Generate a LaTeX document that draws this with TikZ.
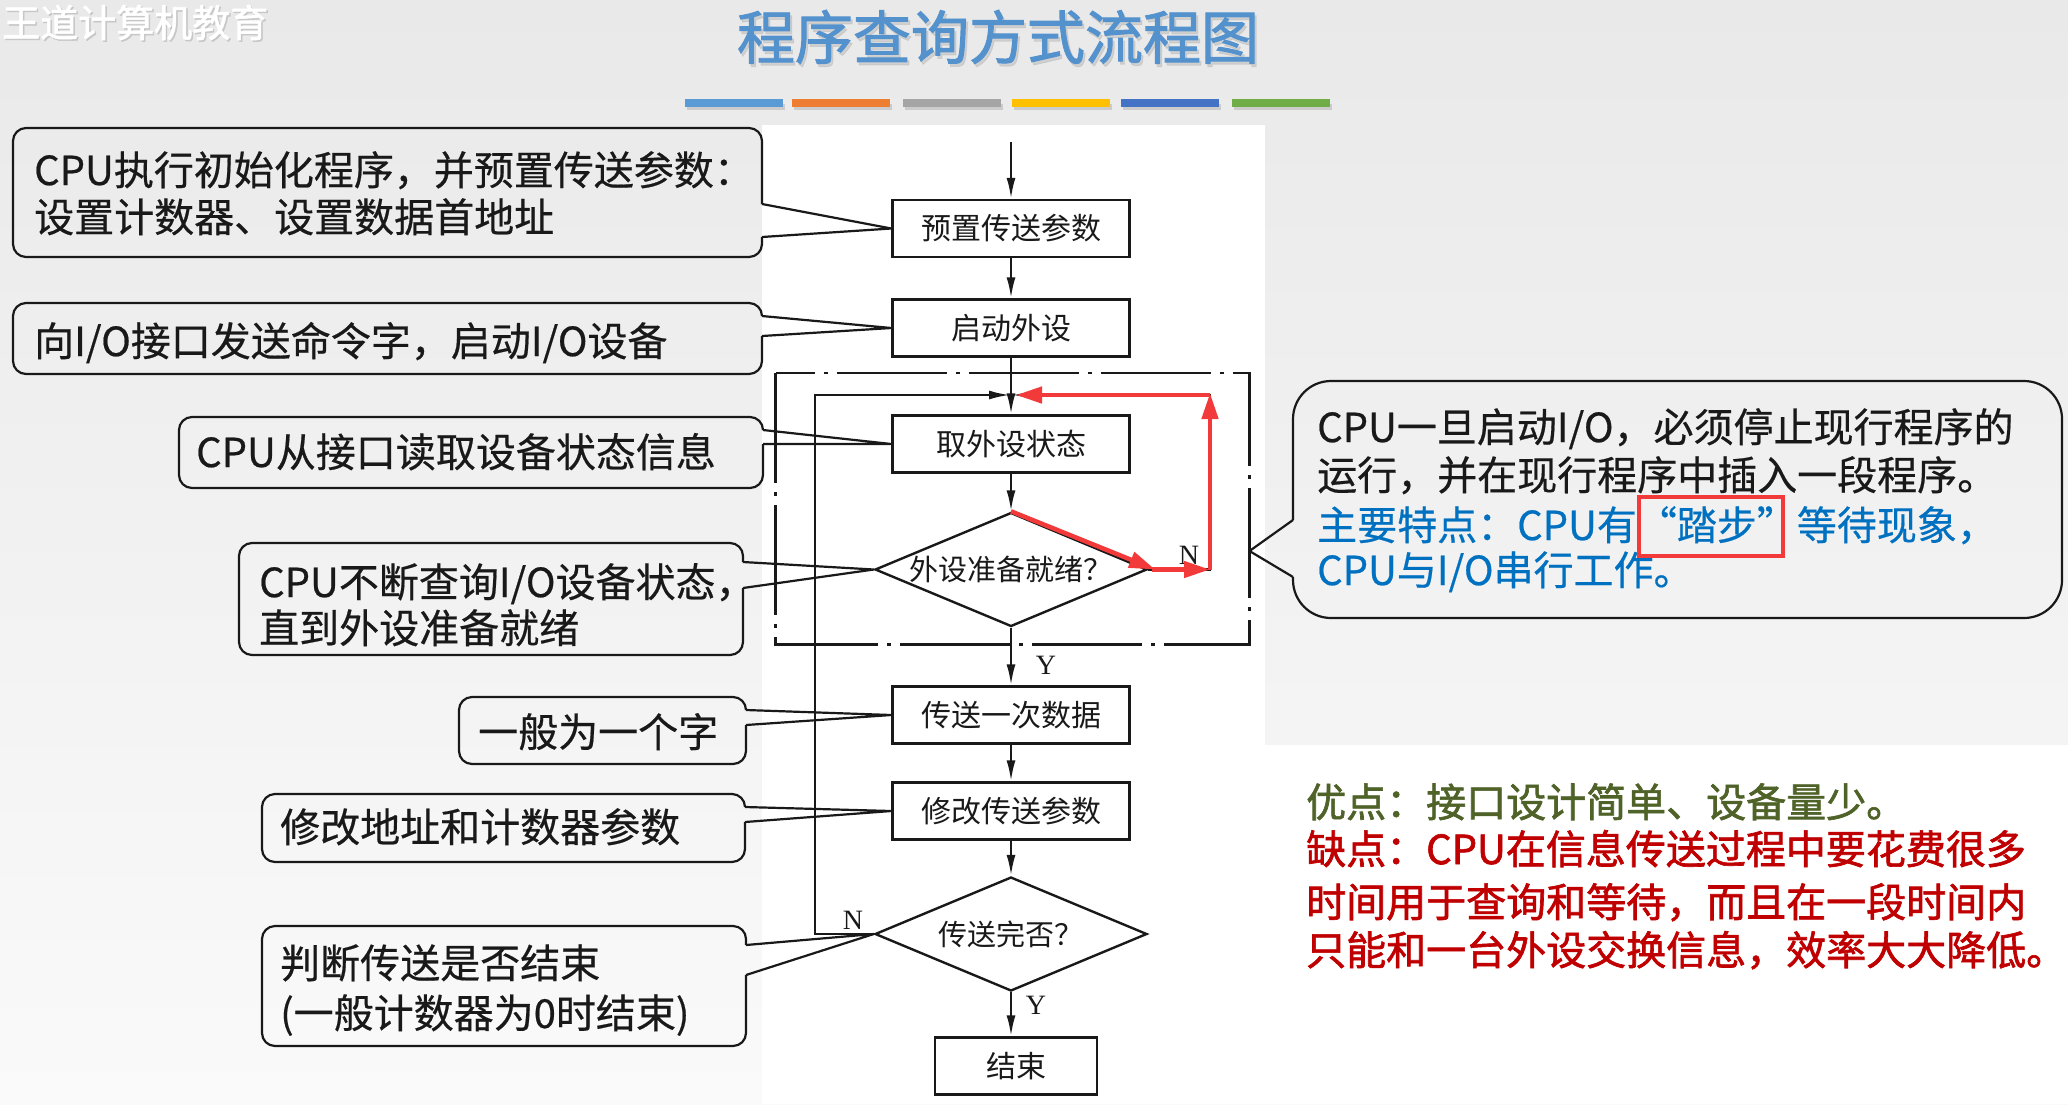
\documentclass[tikz,border=0pt]{standalone}
\usepackage{fontspec}
\usetikzlibrary{arrows.meta,shapes.geometric,calc}
\newfontfamily\cjk[FakeBold=0.5]{Noto Sans CJK SC}
\newfontfamily\cjkflow{Noto Sans CJK SC}
\newfontfamily\cjkbold[FakeBold=1.6]{Noto Sans CJK SC}
\newfontfamily\latinserif{Liberation Serif}

\definecolor{bgtop}{RGB}{233,233,233}
\definecolor{bgbot}{RGB}{250,250,250}
\definecolor{ink}{RGB}{25,25,25}
\definecolor{titleblue}{RGB}{84,146,206}
\definecolor{noteblue}{RGB}{0,112,192}
\definecolor{prosgreen}{RGB}{79,98,40}
\definecolor{consred}{RGB}{192,0,0}
\definecolor{markred}{RGB}{242,58,58}
\definecolor{barA}{RGB}{91,155,213}
\definecolor{barB}{RGB}{237,125,49}
\definecolor{barC}{RGB}{165,165,165}
\definecolor{barD}{RGB}{255,192,0}
\definecolor{barE}{RGB}{68,114,196}
\definecolor{barF}{RGB}{112,173,71}

% rounded note box with a wedge on its right side pointing at #7
% #1,#2 top-left  #3,#4 bottom-right  #5,#6 wedge base on the right edge
\newcommand{\calloutL}[7]{%
  \draw[callout,rounded corners=13pt] (#3,#6) -- (#3,#4) -- (#1,#4) -- (#1,#2) -- (#3,#2) -- (#3,#5);
  \draw[callout] (#3,#5) -- (#7) -- (#3,#6);}

\begin{document}
\begin{tikzpicture}[x=1pt,y=-1pt,
  stepbox/.style={draw=ink, line width=2.4pt, minimum width=237pt, minimum height=57pt,
    inner sep=0pt, font=\cjkflow\fontsize{30}{30}\selectfont, text=ink},
  decision/.style={diamond, draw=ink, line width=2.4pt, minimum width=272pt, minimum height=114pt,
    inner sep=0pt, font=\cjkflow\fontsize{29}{29}\selectfont, text=ink},
  flowline/.style={draw=ink, line width=2.4pt},
  flowarrow/.style={flowline, -{Latex[length=21pt,width=9pt]}},
  branchlbl/.style={font=\latinserif\fontsize{28}{28}\selectfont, text=ink, inner sep=0pt},
  callout/.style={draw=ink, line width=2.2pt, line join=round},
  notetext/.style={anchor=base west, inner sep=0pt, font=\cjk\fontsize{40}{40}\selectfont, text=ink},
  boldtext/.style={anchor=base west, inner sep=0pt, font=\cjkbold\fontsize{40}{40}\selectfont},
  markarrow/.style={draw=markred, line width=4.5pt, -{Triangle[length=26pt,width=16pt]}},
  loopframe/.style={draw=ink, line width=2.2pt, dash pattern=on 110pt off 9pt on 4pt off 9pt},
  bar/.style={inner sep=0pt, minimum width=98pt, minimum height=8pt}
]
% page background
\shade[top color=bgtop, bottom color=bgbot] (0,0) rectangle (2068,1104);
\useasboundingbox (0,0) rectangle (2068,1104);
\fill[white] (762,125) rectangle (1265,1104);
\fill[white] (1265,745) rectangle (2068,1104);

% header
\node[anchor=base west, inner sep=0pt, font=\cjkbold\fontsize{38}{38}\selectfont, text=black!22] at (3.5,38.5) {王道计算机教育};
\node[anchor=base west, inner sep=0pt, font=\cjkbold\fontsize{38}{38}\selectfont, text=white] (brand) at (2,37) {王道计算机教育};
\node[anchor=base, inner sep=0pt, font=\cjkbold\fontsize{58}{58}\selectfont, text=black!25, opacity=.6] at (1000,62) {程序查询方式流程图};
\node[anchor=base, inner sep=0pt, font=\cjkbold\fontsize{58}{58}\selectfont, text=titleblue] (title) at (998,59) {程序查询方式流程图};
\foreach \x/\c in {734/barA, 841/barB, 952/barC, 1061/barD, 1170/barE, 1281/barF}{
  \fill[black!20] (\x-47,104) rectangle (\x+51,110);
  \node[bar, fill=\c] at (\x,103) {};
}

% flow chart
\coordinate (start) at (1011,142);
\coordinate (join) at (1011,395);
\coordinate (loopL) at (815,395);
\coordinate (loopR) at (1210,395);
\node[stepbox] (pA) at (1011,228.5) {预置传送参数};
\node[stepbox] (pB) at (1011,328) {启动外设};
\node[stepbox] (pC) at (1011,444) {取外设状态};
\node[decision] (d1) at (1011,569.5) {\makebox[0pt]{外设准备就绪？}};
\node[stepbox] (pE) at (1011,715) {传送一次数据};
\node[stepbox] (pF) at (1011,811) {修改传送参数};
\node[decision] (d2) at (1011,934) {\makebox[0pt]{传送完否？}};
\node[stepbox, minimum width=162pt] (pG) at (1016,1066) {结束};

\draw[loopframe] (775.5,373) rectangle (1249.5,644.5);
\coordinate (rtip) at (1249.5,551);

\draw[flowarrow] (start) -- (pA);
\draw[flowarrow] (pA) -- (pB);
\draw[flowarrow] (pB) -- (pC);
\draw[flowarrow] (pC) -- (d1);
\draw[flowarrow] (d1) -- (pE);
\draw[flowarrow] (pE) -- (pF);
\draw[flowarrow] (pF) -- (d2);
\draw[flowarrow] (d2.south) -- (d2.south |- pG.north);
\draw[flowarrow, shorten >=1pt] (d2.west) -| (loopL) -- (join);
\draw[flowarrow, shorten >=1pt] (d1.east) -| (loopR) -- (join);

\node[branchlbl] (y1) at (1046,665) {Y};
\node[branchlbl] (n1) at (1189,555) {N};
\node[branchlbl] (n2) at (853,920) {N};
\node[branchlbl] (y2) at (1036,1005) {Y};

% red hand marks tracing the waiting loop
\draw[markarrow] (d1.north) -- ([xshift=7pt]d1.east);
\draw[markarrow] ([xshift=4pt]d1.east) -- (d1.east -| loopR);
\draw[markarrow] (d1.east -| loopR) -- ([yshift=2pt]loopR);
\draw[markarrow, shorten >=5pt] (loopR) -- (join);

% notes on the left
\calloutL{13}{128}{762}{257}{204}{237}{pA.west}
\calloutL{13}{303}{762}{374}{316}{336}{pB.west}
\calloutL{179}{417}{763}{488}{430}{444}{pC.west}
\calloutL{239}{543}{743}{655}{562}{588}{d1.west}
\calloutL{459}{697}{746}{764}{710}{725}{pE.west}
\calloutL{262}{794}{745}{862}{807}{822}{pF.west}
\calloutL{262}{926}{746}{1046}{945}{975}{d2.west}

\node[notetext] (c1a) at (34,185) {CPU执行初始化程序，并预置传送参数：};
\node[notetext] (c1b) at (34,232) {设置计数器、设置数据首地址};
\node[notetext] (c2) at (34,356) {向I/O接口发送命令字，启动I/O设备};
\node[notetext] (c3) at (196,467) {CPU从接口读取设备状态信息};
\node[notetext] (c4a) at (259,597) {CPU不断查询I/O设备状态，};
\node[notetext] (c4b) at (259,643) {直到外设准备就绪};
\node[notetext] (c5) at (478,747) {一般为一个字};
\node[notetext] (c6) at (280,842) {修改地址和计数器参数};
\node[notetext] (c7a) at (280,978) {判断传送是否结束};
\node[notetext] (c7b) at (280,1028) {(一般计数器为0时结束)};

% note on the right
\draw[callout,rounded corners=38pt] (1293,520) -- (1293,381) -- (2062,381) -- (2062,618) -- (1293,618) -- (1293,577);
\draw[callout] (1293,520) -- (rtip) -- (1293,577);
\node[notetext] (r1) at (1317,442) {CPU一旦启动I/O，必须停止现行程序的};
\node[notetext] (r2) at (1317,490) {运行，并在现行程序中插入一段程序。};
\node[notetext, text=noteblue] (r3) at (1317,540) {主要特点：CPU有“踏步”等待现象，};
\node[notetext, text=noteblue] (r4) at (1317,585) {CPU与I/O串行工作。};
\draw[markred, line width=4.5pt] (1639,497) rectangle (1783,556);

% pros and cons
\node[boldtext, text=prosgreen] (pros) at (1306,817) {优点：接口设计简单、设备量少。};
\node[boldtext, text=consred] (cons1) at (1306,864) {缺点：CPU在信息传送过程中要花费很多};
\node[boldtext, text=consred] (cons2) at (1306,917) {时间用于查询和等待，而且在一段时间内};
\node[boldtext, text=consred] (cons3) at (1306,965) {只能和一台外设交换信息，效率大大降低。};
\end{tikzpicture}
\end{document}
